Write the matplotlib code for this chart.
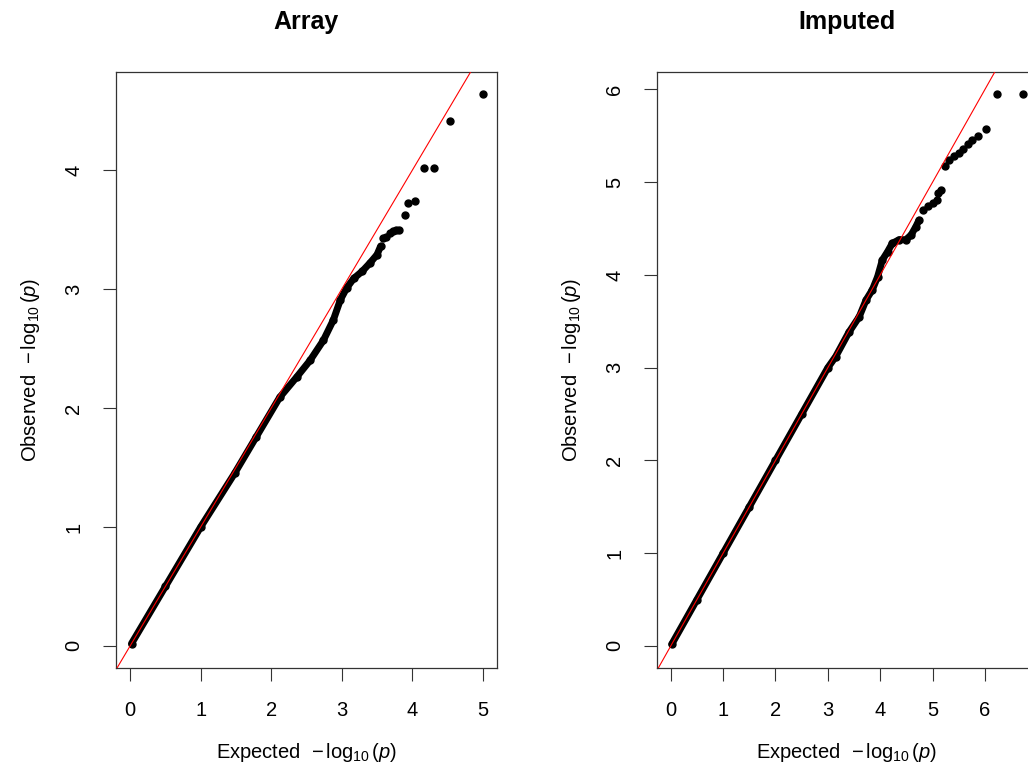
import matplotlib
matplotlib.use("Agg")
import matplotlib.pyplot as plt

plt.rcParams['font.family'] = ['Liberation Sans', 'DejaVu Sans']
plt.rcParams['mathtext.fontset'] = 'custom'
plt.rcParams['mathtext.rm'] = 'Liberation Sans'
plt.rcParams['mathtext.it'] = 'Liberation Sans:italic'
plt.rcParams['mathtext.bf'] = 'Liberation Sans:bold'

# ---- data ----
titles = ["Array", "Imputed"]

# Array: dense bulk (drawn as a continuous band of points) and discrete tail
array_bulk_exp = [0.02, 0.5, 1.0, 1.48, 1.79, 2.12, 2.36, 2.55, 2.74, 2.88, 2.98,
                  3.07, 3.17, 3.29, 3.40, 3.50, 3.55]
array_bulk_obs = [0.02, 0.5, 1.0, 1.45, 1.76, 2.09, 2.26, 2.40, 2.57, 2.74, 2.91,
                  3.01, 3.09, 3.15, 3.22, 3.29, 3.36]
array_tail_exp = [3.59, 3.63, 3.68, 3.73, 3.77, 3.81, 3.89, 3.94, 4.04, 4.16, 4.30, 4.53, 5.00]
array_tail_obs = [3.43, 3.44, 3.47, 3.49, 3.50, 3.50, 3.62, 3.72, 3.74, 4.02, 4.02, 4.41, 4.64]

# Imputed
imp_bulk_exp = [0.02, 0.5, 1.0, 1.5, 2.0, 2.5, 3.0, 3.15, 3.4, 3.6, 3.73, 3.85, 3.95,
                4.04, 4.14, 4.23, 4.36, 4.49, 4.59, 4.68, 4.74]
imp_bulk_obs = [0.02, 0.5, 1.0, 1.5, 2.0, 2.5, 3.0, 3.12, 3.38, 3.55, 3.73, 3.84, 3.98,
                4.16, 4.25, 4.34, 4.38, 4.38, 4.43, 4.52, 4.59]
imp_tail_exp = [4.81, 4.92, 5.00, 5.08, 5.10, 5.16, 5.24, 5.32, 5.41, 5.50, 5.59, 5.67,
                5.76, 5.87, 6.02, 6.23, 6.72]
imp_tail_obs = [4.70, 4.74, 4.78, 4.81, 4.88, 4.92, 5.17, 5.24, 5.28, 5.32, 5.36, 5.41,
                5.45, 5.50, 5.57, 5.95, 5.95]

x_ticks = [[0, 1, 2, 3, 4, 5], [0, 1, 2, 3, 4, 5, 6]]
y_ticks = [[0, 1, 2, 3, 4], [0, 1, 2, 3, 4, 5, 6]]

xlab = r"Expected  $-\,\log_{10}(p)$"
ylab = r"Observed  $-\,\log_{10}(p)$"

fig = plt.figure(figsize=(10.28, 7.69), dpi=100)
axes = [fig.add_axes([116/1028, 101/769, 381/1028, 596/769]),
        fig.add_axes([656.7/1028, 101/769, 380/1028, 596/769])]

datasets = [(array_bulk_exp, array_bulk_obs, array_tail_exp, array_tail_obs),
            (imp_bulk_exp, imp_bulk_obs, imp_tail_exp, imp_tail_obs)]

for i, ax in enumerate(axes):
    be, bo, te, to = datasets[i]
    ax.plot(be, bo, color='black', lw=5, solid_capstyle='round', solid_joinstyle='round',
            marker='o', ms=5, zorder=2)
    ax.plot(te, to, 'o', color='black', ms=5, zorder=2)
    ax.axline((0, 0), slope=1, color='red', lw=0.8, zorder=3)

    xmax = max(te)
    ymax = max(to)
    ax.set_xlim(-0.04 * xmax, 1.04 * xmax)
    ax.set_ylim(-0.04 * ymax, 1.04 * ymax)
    ax.set_xticks(x_ticks[i])
    ax.set_yticks(y_ticks[i])
    ax.tick_params(length=9.4, width=0.8, pad=14, labelsize=14.5, color='#333333')
    ax.tick_params(axis='y', labelrotation=90)
    for lab in ax.get_yticklabels():
        lab.set_verticalalignment('center')
    for sp in ax.spines.values():
        sp.set_color('#333333')
        sp.set_linewidth(0.9)

    ax.set_title(titles[i], fontsize=18, fontweight='bold', pad=31)
    ax.set_xlabel(xlab, fontsize=14.5)
    ax.set_ylabel(ylab, fontsize=14.5)
    ax.xaxis.set_label_coords(0.5, -85/596)
    ax.xaxis.label.set_verticalalignment('center')
    ax.yaxis.set_label_coords(-85/381, 0.5)
    ax.yaxis.label.set_verticalalignment('center')

fig.savefig("out.png", dpi=100)
